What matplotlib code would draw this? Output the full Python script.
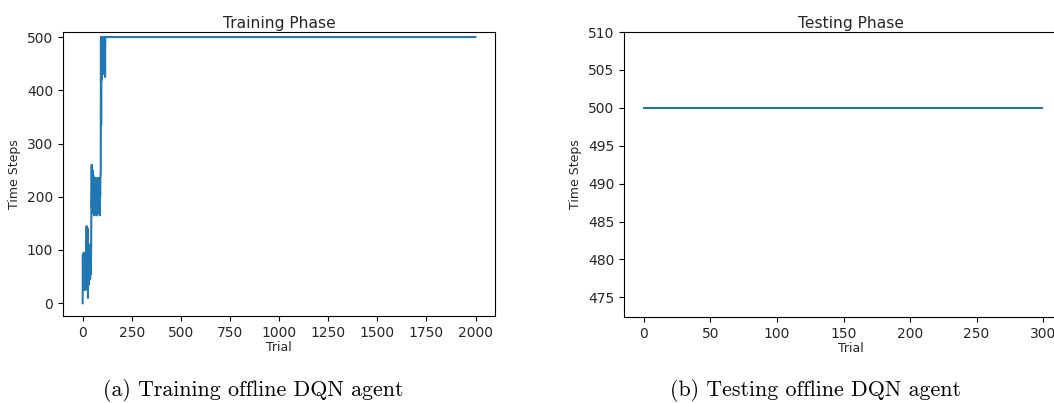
import numpy as np
import matplotlib
matplotlib.use("Agg")
import matplotlib.pyplot as plt

# time steps per trial during training (first noisy trials, then steady 500)
train_early = [0, 90, 35, 85, 25, 95, 45, 70, 30, 90, 40, 60, 25, 80, 35, 90, 45, 55, 30, 75,
               145, 40, 120, 25, 100, 60, 140, 10, 85, 50, 105, 35, 70, 95, 45,
               105, 60, 110, 45, 90, 70, 100, 55, 110, 150, 200,
               260, 180, 235, 200, 250, 170, 225, 190, 240, 175, 215, 200, 230, 165, 220, 185,
               235, 195, 210, 170, 225, 185, 235, 200, 215, 165, 230, 190, 220, 175, 235, 185,
               205, 170, 225, 195, 235, 180, 215, 190, 230, 165, 220, 200, 235, 240, 245,
               500, 335, 500, 480, 500, 420, 500, 500, 460, 500, 500, 440, 500, 500, 500, 470,
               500, 430, 500, 500, 500, 425, 500, 500, 500, 500]
n_train = 2000
train_steps = train_early + [500] * (n_train - len(train_early))

n_test = 300
test_steps = [500] * n_test

plt.rcParams['text.color'] = '#262626'
plt.rcParams['axes.labelcolor'] = '#262626'
plt.rcParams['xtick.labelcolor'] = '#262626'
plt.rcParams['ytick.labelcolor'] = '#262626'

fig = plt.figure(figsize=(10.54, 4.03), dpi=100)

ax1 = fig.add_axes([0.0598, 0.2159, 0.410, 0.7047])
ax1.plot(np.arange(n_train), train_steps, color='C0', lw=1.5)
ax1.set_title('Training Phase', fontsize=11.2, pad=3)
ax1.set_xlabel('Trial', fontsize=9, labelpad=1)
ax1.set_ylabel('Time Steps', fontsize=9)
ax1.set_xticks([0, 250, 500, 750, 1000, 1250, 1500, 1750, 2000])
ax1.set_yticks([0, 100, 200, 300, 400, 500])
ax1.set_xlim(-100, 2100)
ax1.set_ylim(-24, 509.5)
ax1.tick_params(labelsize=10)

ax2 = fig.add_axes([0.592, 0.2134, 0.43, 0.707])
ax2.plot(np.arange(n_test), test_steps, color='C0', lw=1.5)
ax2.set_title('Testing Phase', fontsize=11.2, pad=3)
ax2.set_xlabel('Trial', fontsize=9, labelpad=1)
ax2.set_ylabel('Time Steps', fontsize=9)
ax2.set_xticks([0, 50, 100, 150, 200, 250, 300])
ax2.set_yticks([475, 480, 485, 490, 495, 500, 505, 510])
ax2.set_xlim(-15, 325.6)
ax2.set_ylim(472.4, 510)
ax2.tick_params(labelsize=10)

fig.text(253 / 1054, 1 - 390 / 403, '(a) Training offline DQN agent', ha='center', va='center',
         fontsize=15.8, family='cmr10', color='black')
fig.text(816 / 1054, 1 - 390 / 403, '(b) Testing offline DQN agent', ha='center', va='center',
         fontsize=15.8, family='cmr10', color='black')

fig.savefig('out.png', dpi=100)
